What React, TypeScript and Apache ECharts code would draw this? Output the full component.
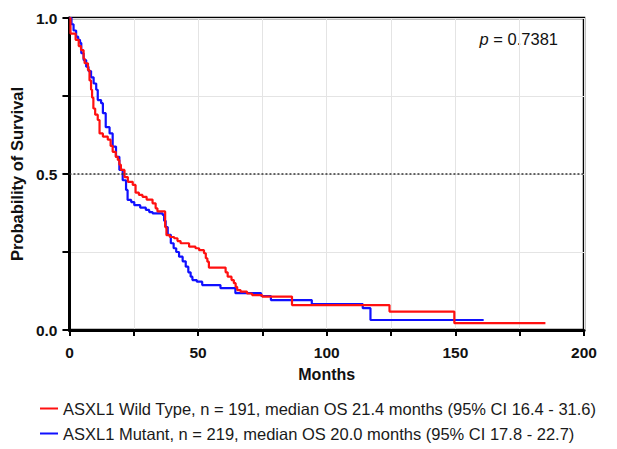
import React, { useEffect, useRef } from "react";
import * as echarts from "echarts";

const wildTypeName = "ASXL1 Wild Type, n = 191, median OS 21.4 months (95% CI 16.4 - 31.6)";
const mutantName = "ASXL1 Mutant, n = 219, median OS 20.0 months (95% CI 17.8 - 22.7)";

// [months, survival probability]
const wildType: [number, number][] = [
  [0, 1.0], [0.4, 0.95], [2.4, 0.93], [3.6, 0.91], [4.5, 0.897], [5.5, 0.87], [5.9, 0.855],
  [7.2, 0.833], [7.8, 0.8], [8.4, 0.77], [8.8, 0.745], [9.3, 0.71], [10, 0.69], [11, 0.673],
  [11.7, 0.63], [13, 0.62], [14.9, 0.61], [16, 0.59], [16.8, 0.571], [18, 0.555], [18.8, 0.545],
  [19.4, 0.53], [20, 0.513], [21.4, 0.49], [22.7, 0.475], [24.6, 0.465], [25.7, 0.44],
  [27, 0.433], [28.4, 0.427], [30, 0.418], [32.3, 0.406], [33.5, 0.39], [34.2, 0.38],
  [37.2, 0.33], [37.7, 0.304], [39, 0.298], [40.7, 0.294], [42, 0.285], [43.2, 0.278],
  [46.5, 0.267], [49, 0.262], [50.4, 0.256], [52.3, 0.246], [53, 0.23], [53.6, 0.219],
  [54.2, 0.2], [60.7, 0.185], [61.5, 0.171], [63, 0.16], [63.9, 0.15], [64.6, 0.138],
  [65.2, 0.128], [66.5, 0.123], [69, 0.117], [71, 0.112], [74.9, 0.107], [86.5, 0.08],
  [124.4, 0.059], [149.6, 0.022], [185, 0.022],
];

const mutant: [number, number][] = [
  [0, 1.0], [0.8, 0.98], [1.6, 0.96], [2.6, 0.94], [3.4, 0.93], [4.1, 0.92], [4.6, 0.887],
  [5.5, 0.865], [6.5, 0.844], [7.4, 0.83], [8.4, 0.81], [9.4, 0.79], [10.4, 0.77], [11, 0.737],
  [12.3, 0.727], [13, 0.695], [14.1, 0.65], [15.6, 0.63], [16.8, 0.588], [18.1, 0.555],
  [19.4, 0.513], [20.7, 0.48], [22, 0.449], [22.6, 0.417], [24, 0.41], [25.2, 0.4],
  [27.5, 0.392], [29.7, 0.385], [31, 0.378], [32.3, 0.374], [36.2, 0.369], [36.8, 0.35],
  [37.4, 0.33], [38.2, 0.305], [39.4, 0.278], [40.5, 0.262], [41.5, 0.25], [42.6, 0.235],
  [44, 0.22], [45.2, 0.203], [46.2, 0.185], [47.1, 0.171], [47.8, 0.16], [49.5, 0.155],
  [51.6, 0.144], [58.7, 0.134], [64.5, 0.118], [74.5, 0.109], [78.3, 0.096], [94.2, 0.083],
  [114, 0.07], [117, 0.032], [161, 0.032],
];

const xTicks = [0, 50, 100, 150, 200];
const yTicks = [0, 0.5, 1.0];
const pValueText = "0.7381";

const FONT = "Liberation Sans, Arial, Helvetica, sans-serif";

const legendBase = {
  left: 35,
  icon: "rect",
  itemWidth: 18,
  itemHeight: 2,
  textStyle: { fontSize: 16.5, color: "#1a1a1a", fontFamily: FONT },
};

export default function App() {
  const ref = useRef<HTMLDivElement>(null);
  useEffect(() => {
    if (!ref.current) return;
    const chart = echarts.init(ref.current, undefined, { renderer: "svg" });
    chart.setOption({
      animation: false,
      backgroundColor: "#fff",
      textStyle: { fontFamily: FONT },
      grid: {
        left: 66, right: 33, top: 18, bottom: 119,
        show: true, borderColor: "#000", borderWidth: 2.5, backgroundColor: "transparent",
      },
      legend: [
        { ...legendBase, top: 395, data: [wildTypeName] },
        { ...legendBase, top: 420, data: [mutantName] },
      ],
      graphic: [
        {
          type: "text",
          right: 59,
          top: 30,
          style: {
            text: "{i|p} = " + pValueText,
            rich: {
              i: { fontStyle: "italic", fontSize: 16.5, fontFamily: FONT, fill: "#111" },
            },
            fontSize: 16.5,
            fontFamily: FONT,
            fill: "#111",
          },
        },
      ],
      xAxis: {
        type: "value",
        min: 0,
        max: 200,
        interval: 25,
        name: "Months",
        nameLocation: "middle",
        nameGap: 36,
        nameTextStyle: { fontSize: 16, fontWeight: "bold", color: "#111", fontFamily: FONT },
        axisLine: { show: true, onZero: false, lineStyle: { color: "#000", width: 3 } },
        axisTick: { show: true, length: 6, lineStyle: { color: "#000", width: 2 } },
        axisLabel: {
          margin: 14,
          fontSize: 15.5,
          fontWeight: "bold",
          color: "#111",
          fontFamily: FONT,
          formatter: (v: number) => (xTicks.includes(v) ? String(v) : ""),
        },
        splitLine: { show: true, lineStyle: { color: "#e4e4e4", width: 1 } },
      },
      yAxis: {
        type: "value",
        min: 0,
        max: 1,
        interval: 0.25,
        name: "Probability of Survival",
        nameLocation: "middle",
        nameGap: 43,
        nameTextStyle: { fontSize: 16.5, fontWeight: "bold", color: "#111", fontFamily: FONT },
        axisLine: { show: true, onZero: false, lineStyle: { color: "#000", width: 3 } },
        axisTick: { show: true, length: 7, lineStyle: { color: "#000", width: 2 } },
        axisLabel: {
          margin: 12,
          fontSize: 15.5,
          fontWeight: "bold",
          color: "#111",
          fontFamily: FONT,
          formatter: (v: number) =>
            yTicks.some((t) => Math.abs(t - v) < 1e-6) ? v.toFixed(1) : "",
        },
        splitLine: { show: true, lineStyle: { color: "#e4e4e4", width: 1 } },
      },
      series: [
        {
          name: wildTypeName,
          type: "line",
          step: "end",
          symbol: "none",
          data: wildType,
          lineStyle: { color: "#ff1010", width: 2.2 },
          itemStyle: { color: "#ff1010" },
          markLine: {
            silent: true,
            symbol: "none",
            label: { show: false },
            lineStyle: { color: "#333", type: [2, 2], width: 1.5 },
            data: [{ yAxis: 0.5 }],
          },
          z: 3,
        },
        {
          name: mutantName,
          type: "line",
          step: "end",
          symbol: "none",
          data: mutant,
          lineStyle: { color: "#1010ff", width: 2.2 },
          itemStyle: { color: "#1010ff" },
          z: 2,
        },
      ],
    });
    return () => chart.dispose();
  }, []);
  return (
    <div
      ref={ref}
      style={{ position: "fixed", left: 0, top: 0, width: 617, height: 449 }}
    />
  );
}
